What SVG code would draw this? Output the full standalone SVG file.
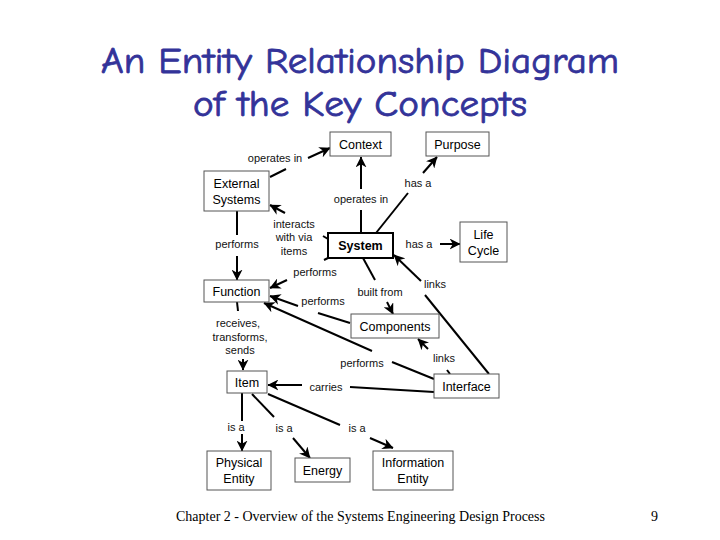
<svg xmlns="http://www.w3.org/2000/svg" width="720" height="540" viewBox="0 0 720 540">
<style>
.title{font-family:"Comic Neue","DejaVu Sans",sans-serif;font-size:36px;font-weight:normal;fill:#333399;stroke:#333399;stroke-width:0.8;text-anchor:middle}
.box{fill:#fff;stroke:#555;stroke-width:1}
.sys{fill:#fff;stroke:#000;stroke-width:2}
.nt{font-family:"Liberation Sans",Arial,sans-serif;font-size:12.5px;fill:#000;text-anchor:middle}
.lb{font-family:"Liberation Sans",Arial,sans-serif;font-size:11px;fill:#111;text-anchor:middle}
.ln{stroke:#000;stroke-width:2;fill:none}
.ft{font-family:"Liberation Serif","Times New Roman",serif;font-size:14px;fill:#000}
</style>
<defs>
<marker id="a" viewBox="0 0 10 10" refX="9.5" refY="5" markerWidth="11" markerHeight="11" orient="auto" markerUnits="userSpaceOnUse">
<path d="M0,0 L10,5 L0,10 L3,5 z" fill="#000"/>
</marker>
</defs>
<rect width="720" height="540" fill="#fff"/>
<text class="title" x="360" y="73" textLength="518" lengthAdjust="spacingAndGlyphs">An Entity Relationship Diagram</text>
<text class="title" x="360" y="116" textLength="334" lengthAdjust="spacingAndGlyphs">of the Key Concepts</text>

<g id="connectors">
<!-- External Systems -> Context -->
<line class="ln" x1="270" y1="177" x2="286" y2="169"/>
<line class="ln" x1="308" y1="158" x2="330" y2="148" marker-end="url(#a)"/>
<text class="lb" x="275" y="162">operates in</text>
<!-- System -> Context -->
<line class="ln" x1="361" y1="233" x2="361" y2="210"/>
<line class="ln" x1="361" y1="189" x2="361" y2="157" marker-end="url(#a)"/>
<text class="lb" x="361" y="203">operates in</text>
<!-- System -> Purpose -->
<line class="ln" x1="376" y1="233" x2="408" y2="193"/>
<line class="ln" x1="423" y1="173" x2="437" y2="157" marker-end="url(#a)"/>
<text class="lb" x="418" y="187">has a</text>
<!-- System -> External Systems -->
<line class="ln" x1="323" y1="236" x2="328" y2="239"/>
<line class="ln" x1="285" y1="213" x2="270" y2="205" marker-end="url(#a)"/>
<text class="lb" x="294" y="228">interacts</text>
<text class="lb" x="294" y="241">with via</text>
<text class="lb" x="294" y="255">items</text>
<!-- External Systems -> Function -->
<line class="ln" x1="237" y1="211" x2="237" y2="235"/>
<line class="ln" x1="237" y1="256" x2="237" y2="280" marker-end="url(#a)"/>
<text class="lb" x="237" y="248">performs</text>
<!-- System -> Life Cycle -->
<line class="ln" x1="440" y1="244" x2="460" y2="244" marker-end="url(#a)"/>
<text class="lb" x="419" y="248">has a</text>
<!-- System -> Function -->
<line class="ln" x1="324" y1="260" x2="328" y2="258"/>
<line class="ln" x1="287" y1="280" x2="270" y2="288" marker-end="url(#a)"/>
<text class="lb" x="315" y="276">performs</text>
<!-- Components -> Function -->
<line class="ln" x1="350" y1="323" x2="318" y2="313"/>
<line class="ln" x1="298" y1="306" x2="270" y2="296" marker-end="url(#a)"/>
<text class="lb" x="323" y="305">performs</text>
<!-- Interface -> Function -->
<line class="ln" x1="434" y1="379" x2="392" y2="362"/>
<line class="ln" x1="372" y1="351" x2="264" y2="303" marker-end="url(#a)"/>
<text class="lb" x="362" y="367">performs</text>
<!-- System -> Components -->
<line class="ln" x1="363" y1="258" x2="375" y2="280"/>
<line class="ln" x1="387" y1="302" x2="393" y2="314" marker-end="url(#a)"/>
<text class="lb" x="380" y="296">built from</text>
<!-- Interface -> System -->
<line class="ln" x1="489" y1="374" x2="425" y2="295"/>
<line class="ln" x1="421" y1="281" x2="394" y2="255" marker-end="url(#a)"/>
<text class="lb" x="435" y="288">links</text>
<!-- Interface -> Components -->
<line class="ln" x1="447" y1="370" x2="450" y2="374"/>
<line class="ln" x1="428" y1="349" x2="418" y2="339" marker-end="url(#a)"/>
<text class="lb" x="444" y="362">links</text>
<!-- Interface -> Item -->
<line class="ln" x1="434" y1="392" x2="350" y2="387"/>
<line class="ln" x1="302" y1="385" x2="268" y2="385" marker-end="url(#a)"/>
<text class="lb" x="326" y="391">carries</text>
<!-- Function -> Item -->
<line class="ln" x1="237" y1="302" x2="238" y2="311"/>
<line class="ln" x1="243" y1="359" x2="243" y2="370" marker-end="url(#a)"/>
<text class="lb" x="238" y="327">receives,</text>
<text class="lb" x="240" y="341">transforms,</text>
<text class="lb" x="240" y="354">sends</text>
<!-- Item -> Physical Entity -->
<line class="ln" x1="242" y1="393" x2="242" y2="421"/>
<line class="ln" x1="242" y1="434" x2="242" y2="451" marker-end="url(#a)"/>
<text class="lb" x="236" y="431">is a</text>
<!-- Item -> Energy -->
<line class="ln" x1="252" y1="394" x2="274" y2="417"/>
<line class="ln" x1="293" y1="438" x2="310" y2="458" marker-end="url(#a)"/>
<text class="lb" x="284" y="432">is a</text>
<!-- Item -> Information Entity -->
<line class="ln" x1="268" y1="394" x2="340" y2="425"/>
<line class="ln" x1="370" y1="438" x2="393" y2="448" marker-end="url(#a)"/>
<text class="lb" x="357" y="432">is a</text>
</g>

<g id="context"><rect class="box" x="330" y="132" width="61" height="24"/><text class="nt" x="360.5" y="149">Context</text></g>
<g id="purpose"><rect class="box" x="426" y="132" width="63" height="24"/><text class="nt" x="457.5" y="149">Purpose</text></g>
<g id="external-systems"><rect class="box" x="204" y="171" width="65" height="40"/><text class="nt" x="236.5" y="188">External</text><text class="nt" x="236.5" y="204">Systems</text></g>
<g id="system"><rect class="sys" x="328" y="233" width="65" height="25"/><text class="nt" x="360.5" y="250" font-weight="bold">System</text></g>
<g id="life-cycle"><rect class="box" x="460" y="222" width="47" height="40"/><text class="nt" x="483.5" y="239">Life</text><text class="nt" x="483.5" y="255">Cycle</text></g>
<g id="function"><rect class="box" x="204" y="280" width="65" height="22"/><text class="nt" x="236.5" y="296">Function</text></g>
<g id="components"><rect class="box" x="351" y="314" width="88" height="24"/><text class="nt" x="395" y="331">Components</text></g>
<g id="item"><rect class="box" x="227" y="371" width="40" height="22"/><text class="nt" x="247" y="387">Item</text></g>
<g id="interface"><rect class="box" x="434" y="374" width="65" height="24"/><text class="nt" x="466.5" y="391">Interface</text></g>
<g id="physical-entity"><rect class="box" x="207" y="451" width="64" height="39"/><text class="nt" x="239" y="467">Physical</text><text class="nt" x="239" y="483">Entity</text></g>
<g id="energy"><rect class="box" x="295" y="458" width="55" height="24"/><text class="nt" x="322.5" y="475">Energy</text></g>
<g id="information-entity"><rect class="box" x="373" y="451" width="80" height="39"/><text class="nt" x="413" y="467">Information</text><text class="nt" x="413" y="483">Entity</text></g>

<text class="ft" x="176" y="521">Chapter 2 - Overview of the Systems Engineering Design Process</text>
<text class="ft" x="651" y="521">9</text>
</svg>
